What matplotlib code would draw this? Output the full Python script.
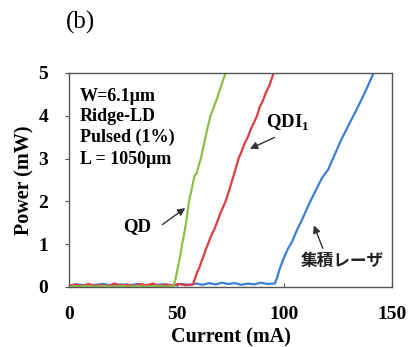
import matplotlib.pyplot as plt

# data (current in mA, power in mW)
qd_i = [0, 4, 8, 12, 16, 20, 24, 28, 32, 36, 40, 44, 48.5,
        49.5, 50.5, 51.5, 52.5, 53.5, 54.5, 55.7, 57, 58.3, 59.3, 60, 61.2,
        62.5, 64, 65.7, 67.2, 68.7, 70, 71.3, 72.7, 73.3]
qd_p = [0.02, 0.01, 0.02, 0.01, 0.02, 0.01, 0.02, 0.01, 0.02, 0.01, 0.02, 0.01, 0.02,
        0.2, 0.45, 0.7, 1.0, 1.25, 1.55, 2.0, 2.3, 2.6, 2.65, 2.8, 3.0,
        3.3, 3.65, 4.0, 4.2, 4.4, 4.6, 4.8, 5.0, 5.1]

qdi_i = [0, 3, 6, 9, 12, 15, 18, 21, 24, 27, 30, 33, 36, 39, 42, 45, 48, 51, 54, 57.5,
         58.5, 59.5, 60.5, 61.5, 62.5, 63.5, 64.5, 66, 67.5, 69, 70.5, 72.7, 74, 75.5,
         77, 78.7, 80, 81.5, 83, 84.5, 86, 87.3, 88.5, 90, 91.5, 93, 95, 96]
qdi_p = [0.03, 0.06, 0.02, 0.07, 0.03, 0.05, 0.02, 0.08, 0.03, 0.06, 0.02, 0.07, 0.04, 0.08,
         0.02, 0.06, 0.03, 0.07, 0.04, 0.06,
         0.2, 0.35, 0.45, 0.6, 0.72, 0.88, 1.0, 1.2, 1.35, 1.55, 1.75, 2.0, 2.2, 2.45,
         2.7, 3.0, 3.15, 3.35, 3.5, 3.7, 3.85, 4.0, 4.2, 4.35, 4.55, 4.7, 5.0, 5.1]

ld_i = [0, 4, 8, 12, 16, 20, 24, 28, 32, 36, 40, 44, 48, 52, 56, 59, 62, 65, 68, 71, 74,
        77, 80, 83, 86, 89, 92, 95.5,
        96.5, 97.8, 99.5, 101.5, 103.5, 106, 108, 110.3, 112.5, 114.8, 117.5, 120.3,
        123, 126.4, 129.5, 133.5, 137, 141, 141.8]
ld_p = [0.04, 0.06, 0.03, 0.05, 0.07, 0.03, 0.06, 0.04, 0.07, 0.03, 0.05, 0.06, 0.04,
        0.07, 0.05, 0.08, 0.05, 0.09, 0.06, 0.1, 0.07, 0.09, 0.05, 0.08, 0.06, 0.1, 0.07, 0.08,
        0.2, 0.42, 0.65, 0.88, 1.05, 1.35, 1.55, 1.81, 2.05, 2.28, 2.55, 2.74,
        3.05, 3.44, 3.75, 4.14, 4.5, 4.95, 5.05]

text_lines = ['W=6.1\u00b5m', 'Ridge-LD', 'Pulsed (1%)', 'L = 1050\u00b5m']
text_y = [4.44, 3.98, 3.49, 2.98]

plt.rcParams['mathtext.fontset'] = 'custom'
plt.rcParams['mathtext.bf'] = 'Liberation Serif:bold'
plt.rcParams['mathtext.rm'] = 'Liberation Serif:bold'

fig = plt.figure(figsize=(4.11, 3.47), dpi=100)
ax = fig.add_axes([0.168, 0.173, 0.786, 0.617])

ax.plot(ld_i, ld_p, color='#3d7fd4', lw=1.6)
ax.plot(qdi_i, qdi_p, color='#de3c46', lw=1.6)
ax.plot(qd_i, qd_p, color='#8dc044', lw=1.6)

ax.set_xlim(0, 150)
ax.set_ylim(0, 5)
ax.set_xticks([0, 50, 100, 150])
ax.set_yticks([0, 1, 2, 3, 4, 5])

serif = 'Liberation Serif'
for lab in ax.get_xticklabels() + ax.get_yticklabels():
    lab.set_fontfamily(serif)
    lab.set_fontweight('bold')
    lab.set_fontsize(14)
ax.tick_params(axis='y', direction='out', length=3, width=0.8, pad=12, color='#555555')
ax.tick_params(axis='x', direction='in', length=3, width=0.8, pad=14, color='#555555')
for s in ax.spines.values():
    s.set_color('#555555')
    s.set_linewidth(1.0)

ax.set_xlabel('Current (mA)', fontfamily=serif, fontweight='bold', fontsize=14.5, labelpad=3)
ax.set_ylabel('Power (mW)', fontfamily=serif, fontweight='bold', fontsize=14.5, labelpad=3)

for t, y in zip(text_lines, text_y):
    ax.text(5, y, t, fontfamily=serif, fontweight='bold', fontsize=13, va='center')

ax.text(31.6, 1.40, 'QD', fontfamily=serif, fontweight='bold', fontsize=13.5, ha='center', va='center')
ax.annotate('', xy=(55, 1.88), xytext=(42.3, 1.42),
            arrowprops=dict(arrowstyle='-|>', color='#333333', lw=1.0, mutation_scale=11))

ax.text(101.7, 3.84, r'QDI$_{\mathbf{1}}$', fontfamily=serif, fontweight='bold', fontsize=13.5,
        ha='center', va='center')
ax.annotate('', xy=(82.8, 3.2), xytext=(96.6, 3.52),
            arrowprops=dict(arrowstyle='-|>', color='#333333', lw=1.0, mutation_scale=11))

ax.text(127, 0.6, '集積レーザ', fontfamily=['Noto Sans CJK JP', 'DejaVu Sans'], fontsize=12,
        fontweight='bold', ha='center', va='center', color='#222222')
ax.annotate('', xy=(113.2, 1.5), xytext=(118.3, 0.84),
            arrowprops=dict(arrowstyle='-|>', color='#333333', lw=1.0, mutation_scale=11))

fig.text(0.197, 0.934, '(b)', fontfamily=serif, fontsize=18, ha='center', va='center')

fig.savefig('out.png', dpi=100)
